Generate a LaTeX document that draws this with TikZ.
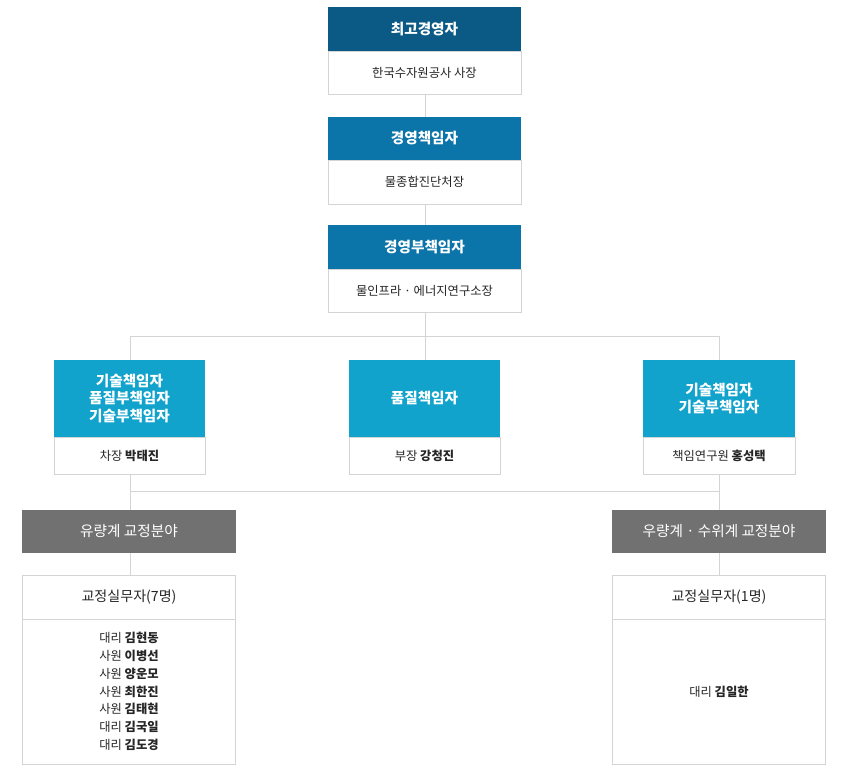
\documentclass[tikz,border=0pt]{standalone}
\usepackage{fontspec}
\setmainfont{Noto Sans CJK KR}
\newfontfamily\krbold{Noto Sans CJK KR}[BoldFont={* Bold}]
\usepackage{tikz}
\definecolor{topblue}{HTML}{0A5A85}
\definecolor{midblue}{HTML}{0B74A8}
\definecolor{lightblue}{HTML}{12A3CC}
\definecolor{greyhead}{HTML}{717171}
\definecolor{framegrey}{HTML}{D4D4D4}
\tikzset{
  headbox/.style={fill=#1,text=white,font=\fontsize{12.5}{15}\selectfont\bfseries,align=center,inner sep=0pt},
  bodybox/.style={draw=framegrey,fill=white,text=black!85,font=\fontsize{10.5}{13}\selectfont,align=center,inner sep=0pt},
  link/.style={draw=framegrey,line width=0.8pt}
}
\begin{document}
\begin{tikzpicture}[x=0.03cm,y=-0.03cm]
        \useasboundingbox (0,0) rectangle (848,783);
        % connectors
        \coordinate (jA) at (425,336);
        \coordinate (jL) at (130,336);
        \coordinate (jR) at (719,336);
        \coordinate (kL) at (130,491);
        \coordinate (kR) at (719,491);
        \draw[link] (425,94)--(425,117);
        \draw[link] (425,204)--(425,225);
        \draw[link] (425,312)--(jA);
        \draw[link] (jL)--(jR);
        \draw[link] (jL)--(130,360);
        \draw[link] (jA)--(425,360);
        \draw[link] (jR)--(719,360);
        \draw[link] (130,474)--(kL);
        \draw[link] (719,474)--(kR);
        \draw[link] (kL)--(kR);
        \draw[link] (kL)--(130,510);
        \draw[link] (kR)--(719,510);
        \draw[link] (130,553)--(130,575);
        \draw[link] (719,553)--(719,575);
        % top chain
        \node[headbox=topblue,minimum width=193*0.03cm,minimum height=44*0.03cm] (ceo) at (424.5,29) {최고경영자};
        \node[bodybox,minimum width=193*0.03cm,minimum height=43*0.03cm] (ceob) at (424.5,72.5) {한국수자원공사 사장};
        \node[headbox=midblue,minimum width=193*0.03cm,minimum height=43*0.03cm] (mgr) at (424.5,138.5) {경영책임자};
        \node[bodybox,minimum width=193*0.03cm,minimum height=44*0.03cm] (mgrb) at (424.5,182) {물종합진단처장};
        \node[headbox=midblue,minimum width=193*0.03cm,minimum height=44*0.03cm] (sub) at (424.5,247) {경영부책임자};
        \node[bodybox,minimum width=193*0.03cm,minimum height=43*0.03cm] (subb) at (424.5,290.5) {물인프라 · 에너지연구소장};
        % second row
        \node[headbox=lightblue,minimum width=151*0.03cm,minimum height=77*0.03cm] (tecL) at (129.5,398.5) {기술책임자\\품질부책임자\\기술부책임자};
        \node[bodybox,minimum width=151*0.03cm,minimum height=37*0.03cm] (tecLb) at (129.5,455.5) {차장 \textbf{박태진}};
        \node[headbox=lightblue,minimum width=151*0.03cm,minimum height=77*0.03cm] (qual) at (424.5,398.5) {품질책임자};
        \node[bodybox,minimum width=151*0.03cm,minimum height=37*0.03cm] (qualb) at (424.5,455.5) {부장 \textbf{강청진}};
        \node[headbox=lightblue,minimum width=152*0.03cm,minimum height=77*0.03cm] (tecR) at (719,398.5) {기술책임자\\기술부책임자};
        \node[bodybox,minimum width=152*0.03cm,minimum height=37*0.03cm] (tecRb) at (719,455.5) {책임연구원 \textbf{홍성택}};
        % fields
        \node[headbox=greyhead,font=\fontsize{12.5}{15}\selectfont,minimum width=214*0.03cm,minimum height=43*0.03cm] (flow) at (129,531.5) {유량계 교정분야};
        \node[headbox=greyhead,font=\fontsize{12.5}{15}\selectfont,minimum width=214*0.03cm,minimum height=43*0.03cm] (rain) at (719,531.5) {우량계 · 수위계 교정분야};
        \node[bodybox,font=\fontsize{12}{15}\selectfont,minimum width=213*0.03cm,minimum height=44*0.03cm] (flowt) at (129,597) {교정실무자(7명)};
        \node[bodybox,minimum width=213*0.03cm,minimum height=145*0.03cm,font=\fontsize{10.5}{15.2}\selectfont] (flowl) at (129,691.5) {대리 \textbf{김현동}\\사원 \textbf{이병선}\\사원 \textbf{양운모}\\사원 \textbf{최한진}\\사원 \textbf{김태현}\\대리 \textbf{김국일}\\대리 \textbf{김도경}};
        \node[bodybox,font=\fontsize{12}{15}\selectfont,minimum width=213*0.03cm,minimum height=44*0.03cm] (raint) at (719,597) {교정실무자(1명)};
        \node[bodybox,minimum width=213*0.03cm,minimum height=145*0.03cm] (rainl) at (719,691.5) {대리 \textbf{김일한}};
      \end{tikzpicture}
\end{document}
